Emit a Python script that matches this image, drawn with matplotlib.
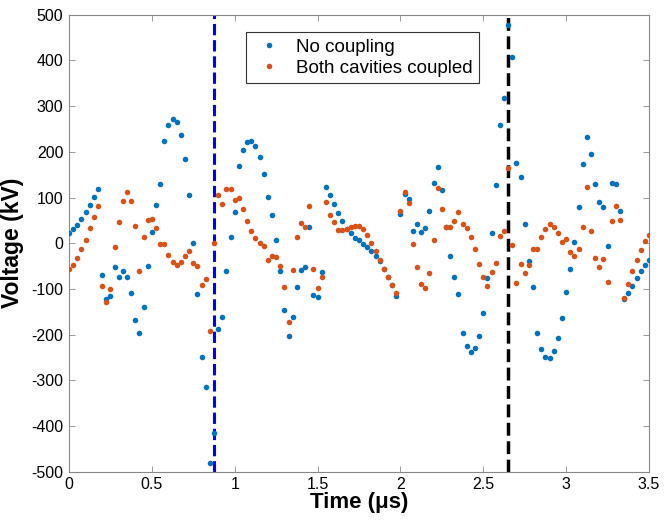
import numpy as np
import matplotlib
matplotlib.use("Agg")
import matplotlib.pyplot as plt

plt.rcParams['font.family'] = ['Liberation Sans', 'DejaVu Sans']
plt.rcParams['axes.unicode_minus'] = False

# sample times (us), one sample every 0.025 us
time_us = np.linspace(0, 3.5, 141)

no_coupling = [
    23, 30, 40, 53, 68, 84, 101, 118, -70, -122,
    -116, -53, -75, -61, -73, -109, -168, -196, -140, -50,
    24, 83, 129, 224, 258, 272, 265, 237, 185, 106,
    0, -111, -250, -315, -480, -415, -187, -161, -61, 14,
    69, 168, 203, 221, 224, 212, 189, 151, 101, 61,
    8, -60, -146, -203, -162, -95, -59, -51, 35, -113,
    -117, -64, 123, 105, 86, 66, 48, 31, 22, 12,
    6, -2, -8, -16, -28, -40, -56, -73, -92, -115,
    65, 108, 97, 27, 43, 24, 33, 71, 131, 166,
    117, 35, -27, -75, -111, -197, -226, -237, -229, -202,
    -152, -77, 22, 127, 259, 318, 477, 407, 175, 145,
    41, -38, -95, -196, -232, -250, -251, -236, -207, -164,
    -107, -57, 3, 79, 173, 233, 195, 129, 90, 79,
    -6, 131, 129, 70, -123, -109, -93, -76, -61, -48,
    -37,
]

both_coupled = [
    -57, -48, -33, -13, 8, 33, 57, 82, -94, -129,
    -101, -9, 46, 93, 111, 92, 37, -60, 14, 50,
    54, 33, -2, -2, -25, -41, -48, -41, -28, -17,
    -43, -49, -91, -79, -193, 0, 105, 85, 119, 118,
    94, 99, 74, 49, 27, 11, 0, -6, -37, -29,
    -31, -50, -95, -173, -59, 14, 44, 35, 81, -57,
    -97, -74, 90, 61, 46, 29, 29, 32, 35, 38,
    38, 30, 17, 1, -16, -37, -56, -73, -91, -110,
    71, 111, 87, -2, -51, -90, -97, -65, 8, 120,
    75, 35, 35, 49, 69, 43, 33, 14, -13, -46,
    -75, -93, -62, -44, 16, 27, 164, -4, -88, -46,
    -65, -48, -13, -12, 13, 31, 41, 36, 22, 3,
    10, -19, -29, -13, 36, 124, 27, -32, -51, -34,
    -84, 48, 81, 51, -119, -89, -61, -37, -15, 4,
    19,
]

marker_times = [0.872, 2.647]
marker_colors = ['#0000FF', '#000000']

fig = plt.figure(figsize=(6.68, 5.2), dpi=100)
ax = fig.add_axes([0.1033, 0.0929, 0.8683, 0.8788])

ax.plot(time_us, no_coupling, 'o', color='#0072BD', ms=4.0, mew=0,
        label='No coupling', zorder=3)
ax.plot(time_us, both_coupled, 'o', color='#D95319', ms=4.0, mew=0,
        label='Both cavities coupled', zorder=4)

ax.axvline(marker_times[0], color=marker_colors[0], ls='--', lw=2.2, zorder=2)
ax.axvline(marker_times[1], color=marker_colors[1], ls='--', lw=2.5, zorder=2)

ax.set_xlim(0, 3.5)
ax.set_ylim(-500, 500)
ax.set_xticks([0, 0.5, 1, 1.5, 2, 2.5, 3, 3.5])
ax.set_xticklabels(['0', '0.5', '1', '1.5', '2', '2.5', '3', '3.5'])
ax.set_yticks(np.arange(-500, 501, 100))
ax.set_xlabel('Time (μs)', fontsize=16, fontweight='bold', labelpad=0)
ax.set_ylabel('Voltage (kV)', fontsize=16.5, fontweight='bold', labelpad=5)

ax.tick_params(direction='in', top=True, right=True, length=4,
               width=0.6, color='#888888', labelsize=11.5, pad=4)
for s in ax.spines.values():
    s.set_color('#888888')
    s.set_linewidth(0.8)

leg = ax.legend(loc='upper left', bbox_to_anchor=(0.305, 0.962), fontsize=13.5,
                fancybox=False, framealpha=1, edgecolor='#333333',
                handletextpad=0.5, borderpad=0.35, labelspacing=0.2,
                markerscale=1.0, handlelength=1.8, borderaxespad=0)
leg.get_frame().set_linewidth(0.8)

fig.savefig('out.png', dpi=100)
